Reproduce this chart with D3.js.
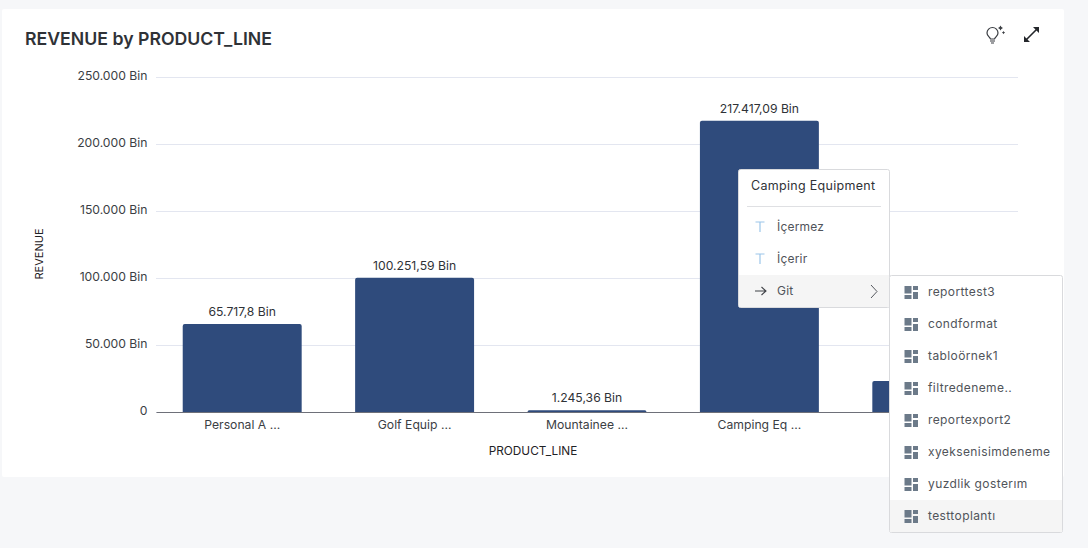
<!DOCTYPE html>
<html><head><meta charset="utf-8">
<script src="https://cdn.jsdelivr.net/npm/d3@7/dist/d3.min.js"></script>
<style>
html,body{margin:0;padding:0;background:#f6f7f9;overflow:hidden}
svg{display:block;font-family:Inter,"Noto Sans",sans-serif}
</style></head><body><svg id="c" width="1088" height="548"></svg>
<script>
const categories=["Personal A ...","Golf Equip ...","Mountainee ...","Camping Eq ...","Outdoor Pr ..."];
const revenue=[65717.8,100251.59,1245.36,217417.09,23100];
const coveredCategories=["Outdoor Pr ..."]; // lie under the open submenu in the reference
const yTicks=[0,50000,100000,150000,200000,250000];
const menuTitle="Camping Equipment";
const menuItems=["İçermez","İçerir","Git"];
const reports=["reporttest3","condformat","tabloörnek1","filtredeneme..","reportexport2","xyeksenisimdeneme","yuzdlik gosterım","testtoplantı"];

const svg=d3.select("#c");
const loc=d3.formatLocale({decimal:",",thousands:".",grouping:[3],currency:["",""]});
const fmtVal=loc.format(",.2~f"),fmtTick=loc.format(",d");
const x=d3.scaleBand().domain(categories).range([156,1018]).paddingInner(0.31).paddingOuter(0.155);
const y=d3.scaleLinear().domain([0,250000]).range([412,77]);

svg.append("rect").attr("x",2).attr("y",9).attr("width",1062).attr("height",468).attr("rx",2).attr("fill","#fff");
svg.append("text").attr("x",25).attr("y",44.5).attr("font-size",17.7).attr("font-weight",600).attr("fill","#2f3237").text("REVENUE by PRODUCT_LINE");

const gy=svg.append("g").attr("transform","translate(156,0)")
  .call(d3.axisLeft(y).tickValues(yTicks).tickSize(-862).tickPadding(8.5).tickFormat(d=>d===0?"0":fmtTick(d)+" Bin"));
gy.select(".domain").remove();
gy.selectAll(".tick line").attr("stroke","#e3e6f0").attr("stroke-width",1);
gy.selectAll(".tick text").attr("font-size",12.2).attr("font-family","Inter").attr("fill","#3b3e44").attr("dy","0.2em");

const barPath=d=>{const x0=x(d.c),w=x.bandwidth(),t=y(d.v),b=y(0),r=Math.min(2,b-t);
  return `M${x0},${b}V${t+r}Q${x0},${t} ${x0+r},${t}H${x0+w-r}Q${x0+w},${t} ${x0+w},${t+r}V${b}Z`;};
const data=categories.map((c,i)=>({c,v:revenue[i]}));
svg.append("g").selectAll("path").data(data).join("path").attr("d",barPath).attr("fill","#2f4b7c");
svg.append("g").selectAll("text").data(data.filter(d=>!coveredCategories.includes(d.c))).join("text")
  .attr("x",d=>x(d.c)+x.bandwidth()/2).attr("y",d=>y(d.v)-8).attr("text-anchor","middle")
  .attr("font-size",12.2).attr("fill","#2f3237").text(d=>fmtVal(d.v)+" Bin");

const gx=svg.append("g").attr("transform","translate(0,412)").call(d3.axisBottom(x).tickSize(0).tickPadding(8));
gx.select(".domain").attr("stroke","#6e7079").attr("stroke-width",1);
gx.selectAll(".tick text").attr("font-size",12.2).attr("font-family","Inter").attr("fill","#3b3e44");
gx.selectAll(".tick").filter(d=>coveredCategories.includes(d)).remove();

svg.append("text").attr("x",533).attr("y",455).attr("text-anchor","middle").attr("font-size",11.8).attr("fill","#1f2226").text("PRODUCT_LINE");
svg.append("text").attr("transform","translate(43,254) rotate(-90)").attr("text-anchor","middle").attr("font-size",11).attr("fill","#1f2226").text("REVENUE");

const bulb=svg.append("g").attr("fill","none").attr("stroke","#3a3d42").attr("stroke-width",1.2);
bulb.append("path").attr("d","M990.5,39C989.5,36.5 987,36 987,33A5.5,5.5 0 0 1 998,33C998,36 995.5,36.5 994.5,39Z");
bulb.append("path").attr("d","M990,41H995M991,43H994");
svg.append("path").attr("d","M1000.5,25.5l0.9,1.6l1.6,0.9l-1.6,0.9l-0.9,1.6l-0.9,-1.6l-1.6,-0.9l1.6,-0.9ZM1003.5,31l0.6,1l1,0.6l-1,0.6l-0.6,1l-0.6,-1l-1,-0.6l1,-0.6Z").attr("fill","#3a3d42");
svg.append("path").attr("d","M1026.5,39.5L1036.5,29.5").attr("stroke","#24272b").attr("stroke-width",1.6);
svg.append("path").attr("d","M1024,42V36L1030,42ZM1039,27V33L1033,27Z").attr("fill","#24272b");

const border="#d9dadd";
const m=svg.append("g");
m.append("rect").attr("x",738.5).attr("y",169.5).attr("width",151).attr("height",138).attr("rx",2).attr("fill","#fff").attr("stroke",border);
m.append("text").attr("x",751).attr("y",190).attr("font-size",12.5).attr("letter-spacing",0.3).attr("fill","#2f3237").text(menuTitle);
m.append("line").attr("x1",747).attr("x2",881).attr("y1",206.5).attr("y2",206.5).attr("stroke","#dfe0e3");
m.append("rect").attr("x",739).attr("y",275).attr("width",150).attr("height",32).attr("fill","#f5f5f5");
menuItems.forEach((t,i)=>{
  const cy=227+32*i;
  m.append("text").attr("x",777).attr("y",cy+4).attr("font-size",12).attr("letter-spacing",0.2).attr("fill","#50545a").text(t);
  if(i<2) m.append("path").attr("d",`M755.5,${cy-5}H764.5M760,${cy-5}V${cy+5}`).attr("stroke","#9cc6ea").attr("stroke-width",1.2).attr("fill","none");
});
m.append("path").attr("d","M755,291H766M761.5,287L766,291L761.5,295").attr("stroke","#3f4247").attr("stroke-width",1.1).attr("fill","none");
m.append("path").attr("d","M871,285L877,291.5L871,298").attr("stroke","#55585e").attr("stroke-width",1).attr("fill","none");

const s=svg.append("g");
s.append("rect").attr("x",889.5).attr("y",275.5).attr("width",173).attr("height",257).attr("rx",2).attr("fill","#fff").attr("stroke",border);
s.append("rect").attr("x",890).attr("y",500).attr("width",172).attr("height",32).attr("fill","#f5f5f5");
const sy=d3.scalePoint().domain(reports).range([292,516]);
reports.forEach(r=>{
  const cy=sy(r);
  s.append("text").attr("x",928).attr("y",cy+4).attr("font-size",12).attr("letter-spacing",0.4).attr("fill","#50545a").text(r);
  s.append("path").attr("d",`M904.5,${cy-6}h7v7.5h-7ZM904.5,${cy+3}h7v4h-7ZM913,${cy-6}h5v4h-5ZM913,${cy}h5v7h-5Z`).attr("fill","#6c7a89");
});
</script></body></html>
